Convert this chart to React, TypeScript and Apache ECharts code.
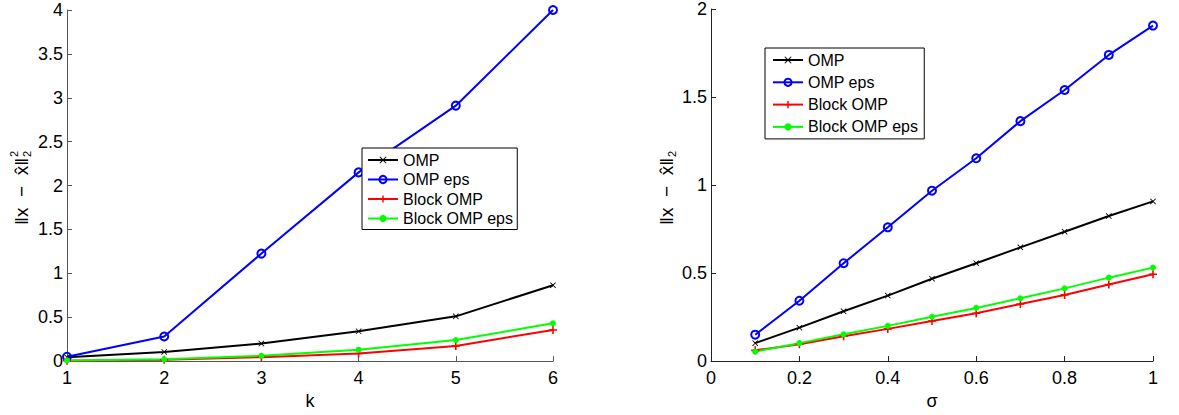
import React, { useEffect, useRef } from "react";
import * as echarts from "echarts";

const kValues = [1, 2, 3, 4, 5, 6];
const leftOMP = [0.045, 0.105, 0.2, 0.34, 0.51, 0.865];
const leftOMPeps = [0.05, 0.28, 1.225, 2.15, 2.91, 4.0];
const leftBlockOMP = [0.005, 0.015, 0.045, 0.086, 0.173, 0.355];
const leftBlockOMPeps = [0.008, 0.02, 0.06, 0.13, 0.24, 0.43];

const sigmaValues = [0.1, 0.2, 0.3, 0.4, 0.5, 0.6, 0.7, 0.8, 0.9, 1.0];
const rightOMP = [0.102, 0.19, 0.283, 0.372, 0.468, 0.556, 0.646, 0.735, 0.824, 0.907];
const rightOMPeps = [0.15, 0.343, 0.556, 0.76, 0.968, 1.152, 1.363, 1.54, 1.739, 1.906];
const rightBlockOMP = [0.061, 0.096, 0.141, 0.183, 0.228, 0.272, 0.324, 0.376, 0.435, 0.493];
const rightBlockOMPeps = [0.054, 0.102, 0.152, 0.2, 0.252, 0.302, 0.357, 0.413, 0.474, 0.531];

const seriesNames = ["OMP", "OMP eps", "Block OMP", "Block OMP eps"];

const FONT = "'Liberation Sans', Arial, Helvetica, sans-serif";

const X_SYMBOL = "path://M1,0L5,4L9,0L10,1L6,5L10,9L9,10L5,6L1,10L0,9L4,5L0,1Z";
const PLUS_SYMBOL = "path://M4,0H6V4H10V6H6V10H4V6H0V4H4Z";

function makeSeries(name: string, data: number[][], idx: number) {
  const common: any = {
    name,
    type: "line",
    data,
    xAxisIndex: idx,
    yAxisIndex: idx,
    showSymbol: true,
    symbolKeepAspect: true,
    z: 3,
  };
  if (name === "OMP") {
    return {
      ...common,
      symbol: X_SYMBOL,
      symbolSize: 6,
      lineStyle: { color: "#000000", width: 2 },
      itemStyle: { color: "#000000" },
    };
  }
  if (name === "OMP eps") {
    return {
      ...common,
      symbol: "circle",
      symbolSize: 8,
      lineStyle: { color: "#0000ff", width: 2 },
      itemStyle: { color: "rgba(0,0,0,0)", borderColor: "#0000ff", borderWidth: 2 },
    };
  }
  if (name === "Block OMP") {
    return {
      ...common,
      symbol: PLUS_SYMBOL,
      symbolSize: 8,
      lineStyle: { color: "#ff0000", width: 2 },
      itemStyle: { color: "#ff0000" },
    };
  }
  return {
    ...common,
    symbol: "circle",
    symbolSize: 6,
    lineStyle: { color: "#00ff00", width: 2 },
    itemStyle: { color: "#00ff00" },
  };
}

function pairs(xs: number[], ys: number[]) {
  return xs.map((x, i) => [x, ys[i]]);
}

function yLabel(x: number, y: number, sup: boolean) {
  const children: any[] = [
    {
      type: "text",
      x: 0,
      y: 0,
      style: {
        text: "‖x  −  x̂‖",
        font: `19px ${FONT}`,
        fill: "#000",
        align: "right",
        verticalAlign: "middle",
      },
    },
    {
      type: "text",
      x: 1,
      y: 6,
      style: {
        text: "2",
        font: `11px ${FONT}`,
        fill: "#000",
        align: "left",
        verticalAlign: "middle",
      },
    },
  ];
  if (sup) {
    children.push({
      type: "text",
      x: 1,
      y: -7,
      style: {
        text: "2",
        font: `11px ${FONT}`,
        fill: "#000",
        align: "left",
        verticalAlign: "middle",
      },
    });
  }
  return {
    type: "group",
    x,
    y,
    rotation: Math.PI / 2,
    children,
  };
}

export default function App() {
  const ref = useRef<HTMLDivElement>(null);
  useEffect(() => {
    if (!ref.current) return;
    const chart = echarts.init(ref.current, null, { renderer: "svg" });

    const axisCommon = (color: string) => ({
      axisLine: { show: true, lineStyle: { color, width: 1 } },
      axisTick: { show: true, inside: true, length: 5, lineStyle: { color } },
      splitLine: { show: false },
      axisLabel: { color: "#000", fontFamily: FONT, fontSize: 18 },
      nameTextStyle: { color: "#000", fontFamily: FONT, fontSize: 18 },
    });

    const legendCommon = {
      orient: "vertical",
      data: seriesNames,
      backgroundColor: "#ffffff",
      borderColor: "#000000",
      borderWidth: 1,
      borderRadius: 0,
      itemWidth: 30,
      itemHeight: 9,
      textStyle: { color: "#000", fontFamily: FONT, fontSize: 16 },
      selectedMode: false,
    };

    const option: any = {
      animation: false,
      backgroundColor: "#ffffff",
      grid: [
        { left: 67, top: 10, width: 486, height: 356 },
        { left: 711, top: 6, width: 442, height: 360 },
      ],
      xAxis: [
        {
          gridIndex: 0,
          type: "value",
          min: 1,
          max: 6,
          interval: 1,
          name: "k",
          nameLocation: "middle",
          nameGap: 30,
          ...axisCommon("#555"),
        },
        {
          gridIndex: 1,
          type: "value",
          min: 0,
          max: 1,
          interval: 0.2,
          name: "σ",
          nameLocation: "middle",
          nameGap: 30,
          ...axisCommon("#222"),
        },
      ],
      yAxis: [
        {
          gridIndex: 0,
          type: "value",
          min: 0,
          max: 4,
          interval: 0.5,
          ...axisCommon("#555"),
          axisLabel: { color: "#000", fontFamily: FONT, fontSize: 18, margin: 4 },
        },
        {
          gridIndex: 1,
          type: "value",
          min: 0,
          max: 2,
          interval: 0.5,
          ...axisCommon("#222"),
          axisLabel: { color: "#000", fontFamily: FONT, fontSize: 18, margin: 4 },
        },
      ],
      legend: [
        { ...legendCommon, left: 362, top: 148, itemGap: 3.5, padding: [4, 4, 3, 5] },
        { ...legendCommon, left: 765, top: 48, itemGap: 6.3, padding: [4, 6, 4, 7] },
      ],
      graphic: [yLabel(21, 158, true), yLabel(666, 158, false)],
      series: [
        makeSeries("OMP", pairs(kValues, leftOMP), 0),
        makeSeries("OMP eps", pairs(kValues, leftOMPeps), 0),
        makeSeries("Block OMP", pairs(kValues, leftBlockOMP), 0),
        makeSeries("Block OMP eps", pairs(kValues, leftBlockOMPeps), 0),
        makeSeries("OMP", pairs(sigmaValues, rightOMP), 1),
        makeSeries("OMP eps", pairs(sigmaValues, rightOMPeps), 1),
        makeSeries("Block OMP", pairs(sigmaValues, rightBlockOMP), 1),
        makeSeries("Block OMP eps", pairs(sigmaValues, rightBlockOMPeps), 1),
      ],
    };
    chart.setOption(option);
    return () => chart.dispose();
  }, []);

  return (
    <div
      ref={ref}
      style={{ position: "absolute", left: 0, top: 0, width: 1179, height: 415 }}
    />
  );
}
